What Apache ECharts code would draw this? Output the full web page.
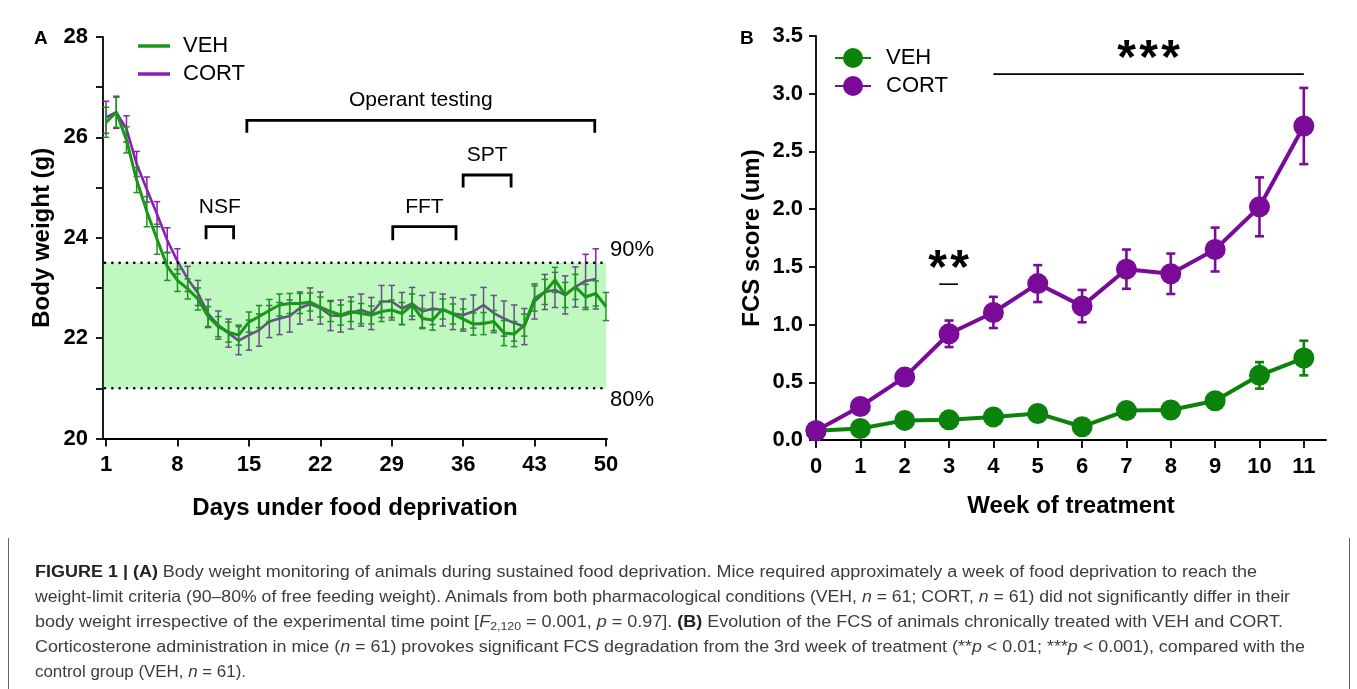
<!DOCTYPE html>
<html><head><meta charset="utf-8">
<script src="https://cdn.jsdelivr.net/npm/echarts@6/dist/echarts.min.js"></script>
<style>
html,body{margin:0;padding:0;background:#fff;width:1357px;height:689px;overflow:hidden;}
#chart{position:absolute;left:0;top:0;width:1357px;height:689px;}
#caption{position:absolute;left:0;top:0;width:1357px;height:689px;pointer-events:none;font-family:"Liberation Sans Narrow","Liberation Sans",Arial,sans-serif;color:#3c3c3c;font-size:16px;}
.cl{position:absolute;left:35px;white-space:nowrap;transform-origin:0 50%;line-height:20px;}
.cl b{color:#222;}
.frame{position:absolute;top:538px;bottom:0;width:1px;background:#666;}
sub{font-size:11px;vertical-align:-3px;line-height:0;}
</style></head>
<body>
<div id="chart"></div>
<div id="caption">
<div class="frame" style="left:8px"></div>
<div class="frame" style="left:1349px"></div>
<div class="cl" data-w="1222" style="top:562px"><b>FIGURE 1 | (A)</b> Body weight monitoring of animals during sustained food deprivation. Mice required approximately a week of food deprivation to reach the</div>
<div class="cl" data-w="1255" style="top:587px">weight-limit criteria (90–80% of free feeding weight). Animals from both pharmacological conditions (VEH, <i>n</i> = 61; CORT, <i>n</i> = 61) did not significantly differ in their</div>
<div class="cl" data-w="1248" style="top:612px">body weight irrespective of the experimental time point [<i>F</i><sub>2,120</sub> = 0.001, <i>p</i> = 0.97]. <b>(B)</b> Evolution of the FCS of animals chronically treated with VEH and CORT.</div>
<div class="cl" data-w="1270" style="top:637px">Corticosterone administration in mice (<i>n</i> = 61) provokes significant FCS degradation from the 3rd week of treatment (**<i>p</i> &lt; 0.01; ***<i>p</i> &lt; 0.001), compared with the</div>
<div class="cl" data-w="211" style="top:662px">control group (VEH, <i>n</i> = 61).</div>
</div>
<script>
// ---------- Panel A data: body weight (g) ----------
const days = [1,2,3,4,5,6,7,8,9,10,11,12,13,14,15,16,17,18,19,20,21,22,23,24,25,26,27,28,29,30,31,32,33,34,35,36,37,38,39,40,41,42,43,44,45,46,47,48,49,50];
const vehWeight = [26.30,26.50,25.95,25.15,24.52,23.97,23.43,23.15,22.98,22.78,
  22.43,22.23,22.12,22.06,22.32,22.43,22.55,22.66,22.69,22.69,
  22.72,22.62,22.53,22.46,22.53,22.49,22.46,22.53,22.56,22.49,
  22.66,22.39,22.36,22.58,22.48,22.38,22.28,22.29,22.33,22.10,
  22.08,22.26,22.79,22.92,23.16,22.86,23.02,22.82,22.89,22.63];
const vehWeightErr = [0.30,0.30,0.26,0.25,0.30,0.30,0.28,0.22,0.20,0.22,
  0.20,0.20,0.20,0.20,0.20,0.22,0.22,0.22,0.20,0.20,
  0.18,0.20,0.20,0.20,0.20,0.20,0.18,0.20,0.20,0.22,
  0.22,0.20,0.20,0.20,0.20,0.20,0.22,0.22,0.22,0.25,
  0.25,0.22,0.25,0.25,0.25,0.25,0.25,0.25,0.25,0.28];
const cortWeight = [26.40,26.50,26.17,25.47,24.96,24.47,23.95,23.53,23.18,22.90,
  22.49,22.26,22.10,21.95,22.06,22.16,22.33,22.39,22.44,22.60,
  22.68,22.60,22.45,22.44,22.50,22.56,22.49,22.73,22.73,22.59,
  22.69,22.53,22.59,22.56,22.49,22.46,22.53,22.66,22.50,22.39,
  22.30,22.23,22.73,22.92,22.96,22.86,23.02,23.14,23.18];
const cortWeightErr = [0.32,0.32,0.26,0.25,0.25,0.25,0.25,0.25,0.25,0.25,
  0.28,0.28,0.28,0.28,0.30,0.32,0.32,0.32,0.32,0.32,
  0.32,0.32,0.30,0.32,0.32,0.32,0.32,0.32,0.32,0.32,
  0.32,0.32,0.32,0.32,0.32,0.32,0.33,0.35,0.35,0.35,
  0.36,0.36,0.35,0.35,0.35,0.38,0.40,0.53,0.60];
const dayTicks = [1,8,15,22,29,36,43,50];
const bandLimits = [21, 23.5];       // 80% and 90% of free-feeding weight
const bandLabels = ['80%', '90%'];
const testPhases = [
  {name:'Operant testing', from:14.8, to:48.9, top:26.34, foot:26.09},
  {name:'NSF', from:10.8, to:13.5, top:24.22, foot:23.97},
  {name:'FFT', from:29.1, to:35.3, top:24.22, foot:23.95},
  {name:'SPT', from:36.0, to:40.7, top:25.25, foot:25.00}
];

// ---------- Panel B data: FCS score ----------
const weeks = [0,1,2,3,4,5,6,7,8,9,10,11];
const vehFcs    = [0.08,0.10,0.17,0.175,0.20,0.23,0.115,0.255,0.26,0.34,0.56,0.71];
const vehFcsErr = [0.02,0.03,0.03,0.03,0.03,0.04,0.03,0.04,0.04,0.05,0.115,0.15];
const cortFcs    = [0.08,0.29,0.545,0.92,1.105,1.355,1.16,1.48,1.44,1.65,2.02,2.72];
const cortFcsErr = [0.02,0.06,0.07,0.115,0.135,0.16,0.14,0.17,0.175,0.19,0.255,0.33];
const significance = [
  {stars:2, from:2.78, to:3.2, y:1.35},
  {stars:3, from:4, to:11, y:3.17}
];

const FONT = '"Liberation Sans", Arial, sans-serif';
const GREEN_A = '#189818', PURPLE_A = '#8b1fb0';
const GREEN_B = '#0b830b', PURPLE_B = '#7a0a98';

function errRender(color, cap, width) {
  return function (params, api) {
    const x = api.value(0), y = api.value(1), e = api.value(2);
    const t = api.coord([x, y + e]), b = api.coord([x, y - e]);
    const s = {stroke: color, lineWidth: width, fill: null};
    return {type: 'group', children: [
      {type: 'line', shape: {x1: t[0], y1: t[1], x2: b[0], y2: b[1]}, style: s},
      {type: 'line', shape: {x1: t[0] - cap, y1: t[1], x2: t[0] + cap, y2: t[1]}, style: s},
      {type: 'line', shape: {x1: b[0] - cap, y1: b[1], x2: b[0] + cap, y2: b[1]}, style: s}
    ]};
  };
}

const chart = echarts.init(document.getElementById('chart'), null, {renderer: 'canvas'});

const axisTxt = {color: '#000', fontFamily: FONT, fontWeight: 'bold', fontSize: 22};
const nameTxt = {color: '#000', fontFamily: FONT, fontWeight: 'bold', fontSize: 24};
const axLine = {lineStyle: {color: '#000', width: 1.8}};

const option = {
  animation: false,
  backgroundColor: '#fff',
  textStyle: {fontFamily: FONT},
  title: [
    {text: 'A', left: 29, top: 24, textStyle: {fontSize: 19, fontWeight: 'bold', color: '#000', fontFamily: FONT}},
    {text: 'B', left: 735, top: 24, textStyle: {fontSize: 19, fontWeight: 'bold', color: '#000', fontFamily: FONT}}
  ],
  legend: [
    {data: [{name: 'VEH_A', icon: 'rect'}, {name: 'CORT_A', icon: 'rect'}], orient: 'vertical', left: 133, top: 30,
     itemWidth: 32, itemHeight: 3.5, itemGap: 6,
     formatter: n => n.split('_')[0], selectedMode: false,
     textStyle: {fontSize: 22, color: '#000', fontFamily: FONT, padding: [0, 0, 0, 8]}},
    {data: ['VEH_B', 'CORT_B'], orient: 'vertical', left: 829, top: 42, itemWidth: 36, itemHeight: 25, itemGap: 6,
     formatter: n => n.split('_')[0], selectedMode: false,
     textStyle: {fontSize: 22, color: '#000', fontFamily: FONT, padding: [0, 0, 0, 10]}}
  ],
  grid: [
    {left: 103, top: 37, width: 504, height: 401.5, containLabel: false, outerBoundsMode: 'none'},
    {left: 816, top: 36, width: 510, height: 404, containLabel: false, outerBoundsMode: 'none'}
  ],
  xAxis: [
    {gridIndex: 0, type: 'value', min: 0.7, max: 50.1,
     name: 'Days under food deprivation', nameLocation: 'middle', nameGap: 58, nameTextStyle: nameTxt,
     axisLine: axLine, splitLine: {show: false},
     axisTick: {customValues: dayTicks, length: 8, lineStyle: {color: '#000', width: 1.8}},
     axisLabel: Object.assign({customValues: dayTicks, margin: 15}, axisTxt)},
    {gridIndex: 1, type: 'value', min: 0, max: 11.5,
     name: 'Week of treatment', nameLocation: 'middle', nameGap: 54, nameTextStyle: nameTxt,
     axisLine: axLine, splitLine: {show: false},
     axisTick: {customValues: weeks, length: 8, lineStyle: {color: '#000', width: 1.8}},
     axisLabel: Object.assign({customValues: weeks, margin: 16}, axisTxt)}
  ],
  yAxis: [
    {gridIndex: 0, type: 'value', min: 20, max: 28, interval: 1,
     name: 'Body weight (g)', nameLocation: 'middle', nameGap: 49, nameTextStyle: nameTxt,
     axisLine: Object.assign({show: true}, axLine), splitLine: {show: false},
     axisTick: {show: true, length: 7, lineStyle: {color: '#000', width: 1.8}},
     axisLabel: Object.assign({margin: 15, formatter: v => (v % 2 === 0 ? String(v) : '')}, axisTxt)},
    {gridIndex: 1, type: 'value', min: 0, max: 3.5, interval: 0.5,
     name: 'FCS score (um)', nameLocation: 'middle', nameGap: 52, nameTextStyle: nameTxt,
     axisLine: Object.assign({show: true}, axLine), splitLine: {show: false},
     axisTick: {show: true, length: 7, lineStyle: {color: '#000', width: 1.8}},
     axisLabel: Object.assign({margin: 13, formatter: v => v.toFixed(1)}, axisTxt)}
  ],
  series: [
    // ---- Panel A ----
    {name: 'CORT_A', type: 'line', xAxisIndex: 0, yAxisIndex: 0, z: 1, symbol: 'none',
     data: cortWeight.map((v, i) => [days[i], v]), lineStyle: {color: PURPLE_A, width: 2.6}, itemStyle: {color: PURPLE_A}},
    {type: 'custom', xAxisIndex: 0, yAxisIndex: 0, z: 1, renderItem: errRender(PURPLE_A, 3.2, 1.5),
     encode: {x: 0, y: 1}, data: cortWeight.map((v, i) => [days[i], v, cortWeightErr[i]])},
    {type: 'custom', xAxisIndex: 0, yAxisIndex: 0, z: 2, silent: true,
     encode: {x: 0, y: 2},
     data: [[0.7, 50, bandLimits[0], bandLimits[1]]],
     renderItem: function (params, api) {
       const p0 = api.coord([api.value(0), api.value(3)]);
       const p1 = api.coord([api.value(1), api.value(2)]);
       return {type: 'rect', shape: {x: p0[0], y: p0[1], width: p1[0] - p0[0], height: p1[1] - p0[1]},
               style: {fill: 'rgba(0,230,0,0.25)'}};
     }},
    {name: 'VEH_A', type: 'line', xAxisIndex: 0, yAxisIndex: 0, z: 3, symbol: 'none',
     data: vehWeight.map((v, i) => [days[i], v]), lineStyle: {color: GREEN_A, width: 3}, itemStyle: {color: GREEN_A}},
    {type: 'custom', xAxisIndex: 0, yAxisIndex: 0, z: 3, renderItem: errRender(GREEN_A, 3.2, 1.5),
     encode: {x: 0, y: 1}, data: vehWeight.map((v, i) => [days[i], v, vehWeightErr[i]])},
    {type: 'custom', xAxisIndex: 0, yAxisIndex: 0, z: 4, silent: true,
     encode: {x: 0, y: 1},
     data: bandLimits.map((v, i) => [0.7, v, i]),
     renderItem: function (params, api) {
       const v = api.value(1), i = api.value(2);
       const a = api.coord([0.7, v]), b = api.coord([50, v]);
       return {type: 'group', children: [
         {type: 'line', shape: {x1: a[0] + 2, y1: a[1], x2: b[0], y2: b[1]},
          style: {stroke: '#000', lineWidth: 2.6, lineDash: [0.1, 7.2], lineCap: 'round'}},
         {type: 'text', style: {text: bandLabels[i], x: b[0] + 4, y: b[1] + (i === 1 ? -13 : 12),
           align: 'left', verticalAlign: 'middle', fontSize: 22, fontFamily: FONT, fill: '#000'}}
       ]};
     }},
    {type: 'custom', xAxisIndex: 0, yAxisIndex: 0, z: 4, silent: true,
     encode: {x: 0, y: 2},
     data: testPhases.map(p => [p.from, p.to, p.top, p.foot]),
     renderItem: function (params, api) {
       const p = testPhases[params.dataIndex];
       const l = api.coord([p.from, p.top]), r = api.coord([p.to, p.top]);
       const lf = api.coord([p.from, p.foot]), rf = api.coord([p.to, p.foot]);
       const s = {stroke: '#000', lineWidth: 2.8, fill: null};
       return {type: 'group', children: [
         {type: 'polyline', shape: {points: [[lf[0], lf[1]], [l[0], l[1]], [r[0], r[1]], [rf[0], rf[1]]]}, style: s},
         {type: 'text', style: {text: p.name, x: (l[0] + r[0]) / 2, y: l[1] - 20, align: 'center', verticalAlign: 'middle',
           fontSize: 21, fontFamily: FONT, fill: '#000'}}
       ]};
     }},
    // ---- Panel B ----
    {type: 'custom', xAxisIndex: 1, yAxisIndex: 1, z: 2, renderItem: errRender(GREEN_B, 4.5, 2.6),
     encode: {x: 0, y: 1}, data: vehFcs.map((v, i) => [weeks[i], v, vehFcsErr[i]])},
    {type: 'custom', xAxisIndex: 1, yAxisIndex: 1, z: 2, renderItem: errRender(PURPLE_B, 4.5, 2.6),
     encode: {x: 0, y: 1}, data: cortFcs.map((v, i) => [weeks[i], v, cortFcsErr[i]])},
    {name: 'VEH_B', type: 'line', xAxisIndex: 1, yAxisIndex: 1, z: 3, symbol: 'circle', symbolSize: 21,
     data: vehFcs.map((v, i) => [weeks[i], v]), lineStyle: {color: GREEN_B, width: 4}, itemStyle: {color: GREEN_B}},
    {name: 'CORT_B', type: 'line', xAxisIndex: 1, yAxisIndex: 1, z: 4, symbol: 'circle', symbolSize: 21,
     data: cortFcs.map((v, i) => [weeks[i], v]), lineStyle: {color: PURPLE_B, width: 4}, itemStyle: {color: PURPLE_B}},
    {type: 'custom', xAxisIndex: 1, yAxisIndex: 1, z: 5, silent: true,
     encode: {x: 0, y: 2},
     data: significance.map(s => [s.from, s.to, s.y]),
     renderItem: function (params, api) {
       const s = significance[params.dataIndex];
       const a = api.coord([s.from, s.y]), b = api.coord([s.to, s.y]);
       const kids = [{type: 'line', shape: {x1: a[0], y1: a[1], x2: b[0], y2: b[1]}, style: {stroke: '#000', lineWidth: 1.6}}];
       const mid = (a[0] + b[0]) / 2, step = 22;
       for (let k = 0; k < s.stars; k++) {
         kids.push({type: 'text', style: {text: '*', x: mid + (k - (s.stars - 1) / 2) * step, y: a[1] + 10,
           align: 'center', verticalAlign: 'bottom', fontSize: 48, fontWeight: 'bold', fontFamily: FONT, fill: '#000'}});
       }
       return {type: 'group', children: kids};
     }}
  ]
};
chart.setOption(option);

// fit caption lines to the measured line lengths of the original figure
document.querySelectorAll('.cl').forEach(el => {
  const w = el.getBoundingClientRect().width;
  const target = parseFloat(el.dataset.w);
  el.style.transform = 'scaleX(' + (target / w) + ')';
});
</script>
</body></html>
